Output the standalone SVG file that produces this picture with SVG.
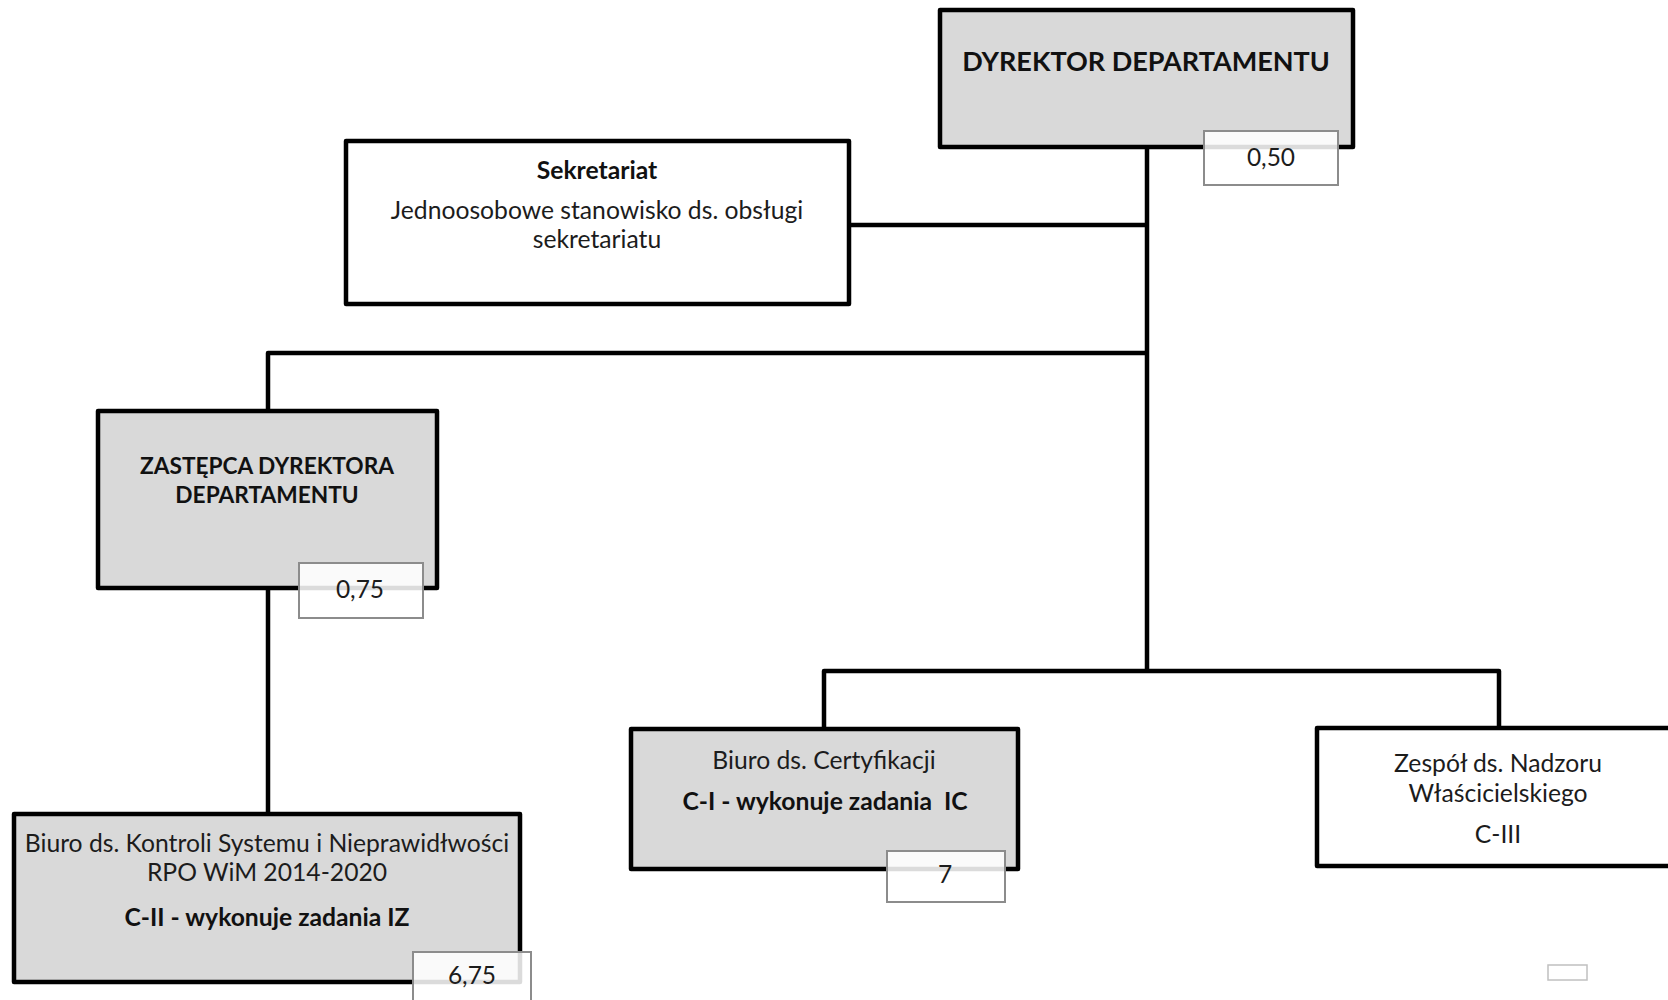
<svg xmlns="http://www.w3.org/2000/svg" width="1668" height="1000" viewBox="0 0 1668 1000">
<style>
.box{stroke:#000;stroke-width:4.5;stroke-linejoin:round}
.gray{fill:#d9d9d9}
.white{fill:#fff}
.val{fill:#fff;fill-opacity:0.86;stroke:#8c8c8c;stroke-width:2}
.conn{fill:none;stroke:#000;stroke-width:4.5;stroke-linejoin:round}
text{font-family:Lato,"Open Sans","Liberation Sans",sans-serif;fill:#1c1c1c;text-anchor:middle}
.b{font-weight:bold;fill:#111}
.t{font-size:24.7px}
.v{font-size:24.5px;fill:#1c1c1c}
</style>
<rect x="0" y="0" width="1668" height="1000" fill="#fff"/>
<g id="connectors">
<polyline class="conn" points="1147,147 1147,671"/>
<polyline class="conn" points="849,225 1147,225"/>
<polyline class="conn" points="1147,353 268,353 268,411"/>
<polyline class="conn" points="268,588 268,813"/>
<polyline class="conn" points="824,729 824,671 1499,671 1499,728"/>
</g>
<g id="dyrektor">
<rect class="box gray" x="940" y="10" width="413" height="137"/>
<text class="b" x="1146" y="71" font-size="27">DYREKTOR DEPARTAMENTU</text>
<rect class="val" x="1204" y="131" width="134" height="54"/>
<text class="v" x="1271" y="166">0,50</text>
</g>
<g id="sekretariat">
<rect class="box white" x="346" y="141" width="503" height="163"/>
<text class="b t" x="597" y="179">Sekretariat</text>
<text class="t" x="597" y="219">Jednoosobowe stanowisko ds. obsługi</text>
<text class="t" x="597" y="248">sekretariatu</text>
</g>
<g id="zastepca">
<rect class="box gray" x="98" y="411" width="339" height="177"/>
<text class="b" x="267" y="474" font-size="22.7">ZASTĘPCA DYREKTORA</text>
<text class="b" x="267" y="503" font-size="22.7">DEPARTAMENTU</text>
<rect class="val" x="299" y="563" width="124" height="55"/>
<text class="v" x="360" y="598">0,75</text>
</g>
<g id="biuro-kontroli">
<rect class="box gray" x="14" y="814" width="506" height="168"/>
<text class="t" x="267" y="852">Biuro ds. Kontroli Systemu i Nieprawidłwości</text>
<text class="t" x="267" y="881">RPO WiM 2014-2020</text>
<text class="b t" x="267" y="926">C-II - wykonuje zadania IZ</text>
<rect class="val" x="413" y="952" width="118" height="60"/>
<text class="v" x="472" y="984">6,75</text>
</g>
<g id="biuro-certyfikacji">
<rect class="box gray" x="631" y="729" width="387" height="140"/>
<text class="t" x="824" y="769">Biuro ds. Certyfikacji</text>
<text class="b t" x="825" y="810">C-I - wykonuje zadania&#160; IC</text>
<rect class="val" x="887" y="851" width="118" height="51"/>
<text class="v" x="945" y="883">7</text>
</g>
<g id="zespol">
<rect class="box white" x="1317" y="728" width="370" height="138"/>
<text class="t" x="1498" y="772">Zespół ds. Nadzoru</text>
<text class="t" x="1498" y="802">Właścicielskiego</text>
<text class="t" x="1498" y="843">C-III</text>
</g>
<g id="pusty">
<rect x="1548" y="965" width="39" height="15" fill="#fff" stroke="#c0c0c0" stroke-width="1.5"/>
</g>
</svg>
